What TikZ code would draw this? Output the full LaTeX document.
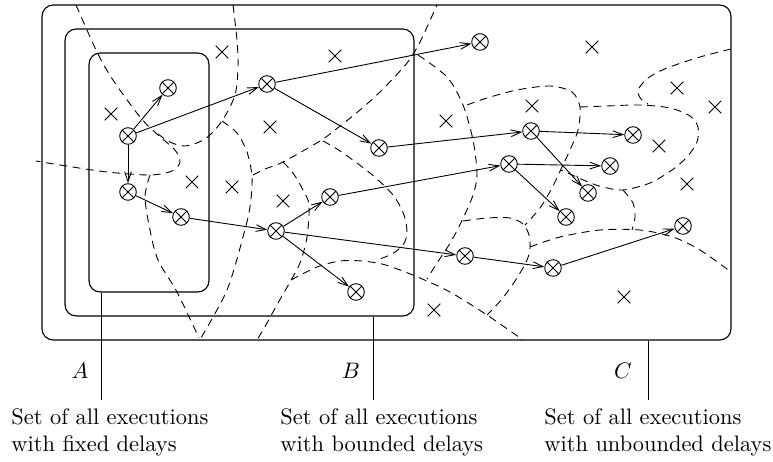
\documentclass[tikz,border=0pt]{standalone}
\usepackage{amsmath}
\usepackage{amssymb}
\usetikzlibrary{shapes,arrows.meta,positioning,fit}

\begin{document}
\begin{tikzpicture}[x=0.446pt,y=-0.446pt,
	>={Straight Barb[length=4.5pt,width=3pt]},
	exec/.style={circle,draw,minimum size=7.4pt,inner sep=0pt,
		path picture={\draw (path picture bounding box.north west) -- (path picture bounding box.south east)
			(path picture bounding box.north east) -- (path picture bounding box.south west);}},
	idle/.style={cross out,draw,minimum size=5.2pt,inner sep=0pt},
	border/.style={dash pattern=on 3.5pt off 2.5pt},
	setbox/.style={draw,rounded corners=5pt,inner sep=0pt,line width=0.5pt}]
	
	\useasboundingbox (0,0) rectangle (773,462);
	
	% the three sets
	\node[setbox,fit={(42,5) (731,340)}] (unbounded) {};
	\node[setbox,fit={(65,29) (414,316)}] (bounded) {};
	\node[setbox,fit={(89,53) (209,292)}] (fixed) {};
	
	% borders between the regions
	\draw[border] plot[smooth] coordinates {(76,5) (97,52) (113,80) (140,117) (158,135) (175,150) (180,162) (172,171) (150,175) (107,172) (60,165) (36,161)};
	\draw[border] plot[smooth] coordinates {(233,5) (237,40) (238,67) (235,95) (222,121) (205,139) (185,146) (170,142) (158,134)};
	\draw[border] plot[smooth] coordinates {(222,121) (237,133) (247,152) (252,177) (250,207) (243,237) (227,290) (201,338)};
	\draw[border] plot[smooth] coordinates {(150,175) (145,197) (150,230) (158,260) (177,292) (199,338)};
	\draw[border] plot[smooth] coordinates {(253,175) (265,169) (283,162) (320,141) (335,130) (360,110) (382,90) (407,63) (420,42) (437,5)};
	\draw[border] plot[smooth] coordinates {(418,55) (447,77) (463,105) (473,140) (477,173) (474,192) (466,212) (452,240) (437,263) (427,279)};
	\draw[border] plot[smooth] coordinates {(323,141) (340,151) (370,173) (393,195) (404,215) (407,233) (403,245) (392,254) (377,260)};
	\draw[border] plot[smooth] coordinates {(283,162) (293,173) (303,190) (309,205) (307,237) (300,263) (290,282) (278,303) (267,323) (257,340)};
	\draw[border] plot[smooth] coordinates {(291,280) (317,267) (340,261) (362,261) (382,264) (400,270) (420,278) (450,292) (487,315) (523,340)};
	\draw[border] plot[smooth] coordinates {(463,221) (487,218) (510,218) (523,224) (529,235) (530,248) (527,260) (517,278) (502,299) (487,315)};
	\draw[border] plot[smooth] coordinates {(530,247) (560,237) (600,230) (640,230) (673,237) (700,250) (731,272)};
	\draw[border] plot[smooth] coordinates {(467,105) (487,98) (517,90) (550,86) (572,92) (580,107) (578,130) (570,150) (562,167) (552,188) (540,208) (525,225)};
	\draw[border] plot[smooth] coordinates {(580,107) (607,106) (640,105) (670,108) (690,116) (698,127) (697,142) (687,157) (672,170) (650,183) (623,190) (603,187) (588,182) (561,170)};
	\draw[border] plot[smooth] coordinates {(623,190) (633,203) (635,217) (632,230)};
	\draw[border] plot[smooth] coordinates {(731,49) (700,57) (667,68) (648,78) (638,90) (641,99) (648,104)};
	
	% executions
	\node[exec] (e1) at (168,88) {};
	\node[exec] (e2) at (128,136) {};
	\node[exec] (e3) at (267,84) {};
	\node[exec] (e4) at (128,192) {};
	\node[exec] (e5) at (181,217) {};
	\node[exec] (e6) at (276,231) {};
	\node[exec] (e7) at (480,42) {};
	\node[exec] (e8) at (379,148) {};
	\node[exec] (e9) at (509,164) {};
	\node[exec] (e10) at (330,197) {};
	\node[exec] (e11) at (465,256) {};
	\node[exec] (e12) at (356,292) {};
	\node[exec] (e13) at (531,131) {};
	\node[exec] (e14) at (633,135) {};
	\node[exec] (e15) at (610,166) {};
	\node[exec] (e16) at (588,193) {};
	\node[exec] (e17) at (566,217) {};
	\node[exec] (e18) at (683,226) {};
	\node[exec] (e19) at (553,268) {};
	
	\draw[->] (e2) -- (e1);
	\draw[->] (e2) -- (e3);
	\draw[->] (e2) -- (e4);
	\draw[->] (e4) -- (e5);
	\draw[->] (e5) -- (e6);
	\draw[->] (e3) -- (e7);
	\draw[->] (e3) -- (e8);
	\draw[->] (e8) -- (e13);
	\draw[->] (e6) -- (e10);
	\draw[->] (e6) -- (e11);
	\draw[->] (e6) -- (e12);
	\draw[->] (e10) -- (e9);
	\draw[->] (e13) -- (e14);
	\draw[->] (e13) -- (e16);
	\draw[->] (e9) -- (e15);
	\draw[->] (e9) -- (e17);
	\draw[->] (e11) -- (e19);
	\draw[->] (e19) -- (e18);
	
	% points that are no executions
	\node[idle] (x1) at (222,52) {};
	\node[idle] (x2) at (111,114) {};
	\node[idle] (x3) at (270,127) {};
	\node[idle] (x4) at (192,182) {};
	\node[idle] (x5) at (232,187) {};
	\node[idle] (x6) at (283,201) {};
	\node[idle] (x7) at (335,56) {};
	\node[idle] (x8) at (446,121) {};
	\node[idle] (x9) at (434,310) {};
	\node[idle] (x10) at (592,47) {};
	\node[idle] (x11) at (677,88) {};
	\node[idle] (x12) at (715,107) {};
	\node[idle] (x13) at (532,106) {};
	\node[idle] (x14) at (659,146) {};
	\node[idle] (x15) at (687,184) {};
	\node[idle] (x16) at (624,297) {};
	
	% labels
	\coordinate (endA) at (101,400);
	\coordinate (endB) at (373,400);
	\coordinate (endC) at (648,400);
	\draw (endA |- fixed.south) -- (endA);
	\draw (endB |- bounded.south) -- (endB);
	\draw (endC |- unbounded.south) -- (endC);
	\node (labA) at (80,371) {$A$};
	\node (labB) at (351,371) {$B$};
	\node (labC) at (623,371) {$C$};
	\node[anchor=north west,align=left,inner sep=0pt] (txtA) at (11,408) {Set of all executions\\with fixed delays};
	\node[anchor=north west,align=left,inner sep=0pt] (txtB) at (280,408) {Set of all executions\\with bounded delays};
	\node[anchor=north west,align=left,inner sep=0pt] (txtC) at (544,408) {Set of all executions\\with unbounded delays};
	
\end{tikzpicture}
\end{document}
